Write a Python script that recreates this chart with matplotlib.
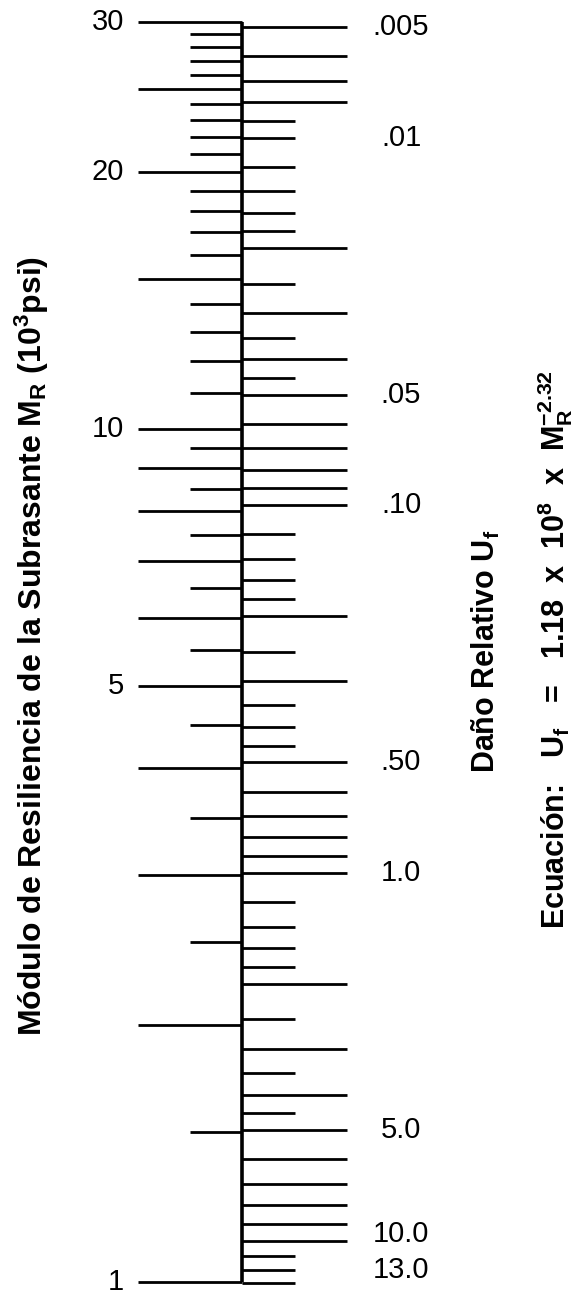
import numpy as np
import matplotlib
matplotlib.use("Agg")
import matplotlib.pyplot as plt

plt.rcParams["font.family"] = ["Liberation Sans", "DejaVu Sans"]
plt.rcParams["mathtext.fontset"] = "custom"
plt.rcParams["mathtext.rm"] = "Liberation Sans"
plt.rcParams["mathtext.bf"] = "Liberation Sans:bold"
plt.rcParams["mathtext.it"] = "Liberation Sans:italic"

# left scale: modulo de resiliencia, 10^3 psi
MR_MAJOR = [30, 25, 20, 15, 10, 9, 8, 7, 6, 5, 4, 3, 2, 1]
MR_MINOR = [29, 28, 27, 26, 24, 23, 22, 21, 19, 18, 17, 16, 14, 13, 12, 11,
            9.5, 8.5, 7.5, 6.5, 5.5, 4.5, 3.5, 2.5, 1.5]
MR_LABELS = [30, 20, 10, 5, 1]

# right scale: dano relativo Uf
UF_MAJOR = [0.005, 0.006, 0.007, 0.008, 0.02, 0.03, 0.04, 0.05, 0.06, 0.07,
            0.08, 0.09, 0.10, 0.20, 0.30, 0.50, 0.60, 0.70, 0.80, 0.90, 1.0,
            2.0, 3.0, 4.0, 5.0, 6.0, 7.0, 8.0, 9.0, 10.0]
UF_MINOR = [0.009, 0.01, 0.012, 0.014, 0.016, 0.018, 0.025, 0.035, 0.045,
            0.12, 0.14, 0.16, 0.18, 0.25, 0.35, 0.40, 0.45, 1.2, 1.4, 1.6,
            1.8, 2.5, 3.5, 4.5, 11.0, 12.0, 13.0]
UF_LABEL_VALUES = [0.005, 0.01, 0.05, 0.10, 0.50, 1.0, 5.0, 10.0, 13.0]
UF_LABELS = [".005", ".01", ".05", ".10", ".50", "1.0", "5.0", "10.0", "13.0"]


def uf_to_mr(uf):
    # Uf = 1.18e8 * MR^-2.32  (MR in psi), returned in 10^3 psi
    return (1.18e8 / np.asarray(uf, dtype=float)) ** (1 / 2.32) / 1000


W, H = 582, 1295
AXIS_X = 241.7
LONG_L, SHORT_L = 104, 52
LONG_R, SHORT_R = 105, 53
TICK_LW = 2.0

fig = plt.figure(figsize=(W / 100, H / 100), dpi=100)
ax = fig.add_axes([0, 13 / H, 1, 1260.3 / H])
ax.set_yscale("log")
ax.set_ylim(1, 30)
ax.set_xlim(0, W)
ax.axis("off")

ax.vlines(AXIS_X, 1, 30, color="black", lw=2.6, capstyle="butt", clip_on=False)

ax.hlines(MR_MAJOR, AXIS_X - LONG_L, AXIS_X, color="black", lw=TICK_LW, clip_on=False)
ax.hlines(MR_MINOR, AXIS_X - SHORT_L, AXIS_X, color="black", lw=TICK_LW, clip_on=False)
ax.hlines(uf_to_mr(UF_MAJOR), AXIS_X, AXIS_X + LONG_R, color="black",
          lw=TICK_LW, clip_on=False)
ax.hlines(uf_to_mr(UF_MINOR), AXIS_X, AXIS_X + SHORT_R, color="black",
          lw=TICK_LW, clip_on=False)

for v in MR_LABELS:
    ax.text(124, v, str(v), ha="right", va="center", fontsize=21)

nudge = {"10.0": 5, "13.0": 9}
for v, lab in zip(UF_LABEL_VALUES, UF_LABELS):
    ax.annotate(lab, (401, uf_to_mr(v)), xytext=(0, nudge.get(lab, 0)),
                textcoords="offset points", ha="center", va="center",
                fontsize=21, annotation_clip=False)

fig.text(32 / W, 1 - 646 / H,
         r"Módulo de Resiliencia de la Subrasante M$_{\mathbf{R}}$ (10$^{\mathbf{3}}$psi)",
         rotation=90, ha="center", va="center", fontsize=23, fontweight="bold")
fig.text(486 / W, 1 - 651 / H, r"Daño Relativo U$_{\mathbf{f}}$",
         rotation=90, ha="center", va="center", fontsize=22, fontweight="bold")
fig.text(555 / W, 1 - 650 / H,
         r"Ecuación:   $\mathregular{U_f}$   =   1.18  x  10$^{\mathbf{8}}$  x  M$_{\mathbf{R}}^{\mathbf{-2.32}}$",
         rotation=90, ha="center", va="center", fontsize=22, fontweight="bold")

fig.savefig("out.png", dpi=100)
